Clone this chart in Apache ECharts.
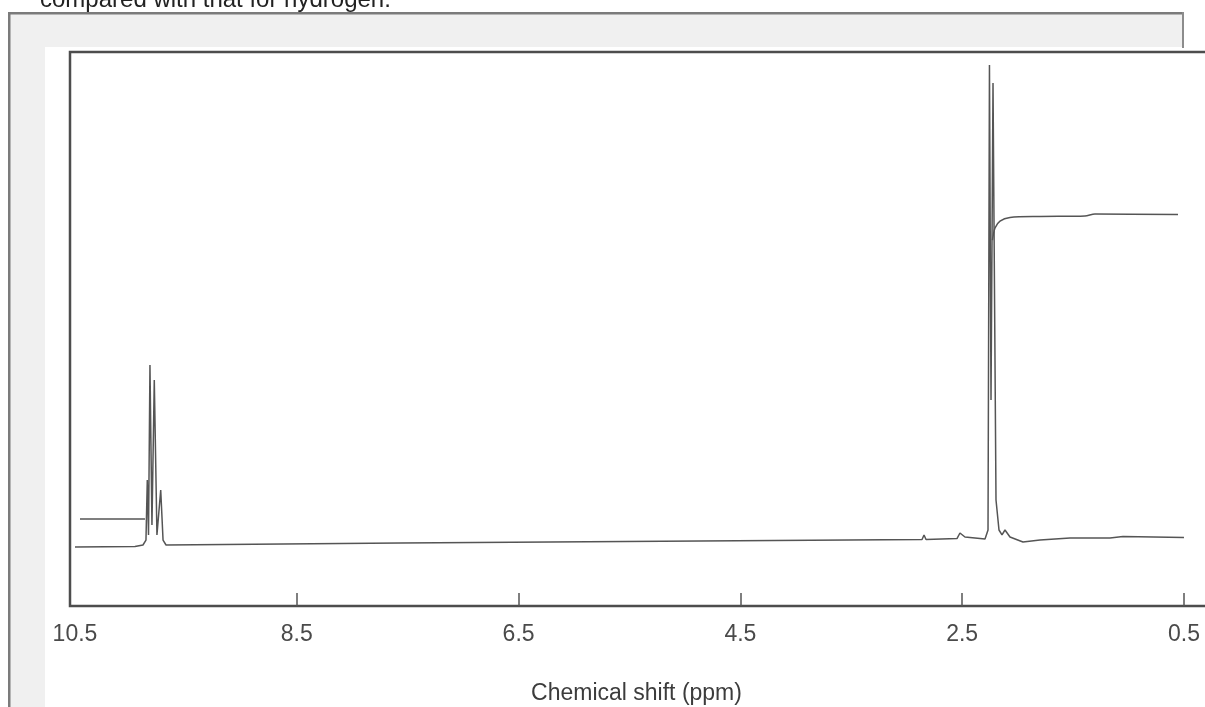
<!DOCTYPE html>
<html>
<head>
<meta charset="utf-8">
<script src="https://cdn.jsdelivr.net/npm/echarts@6/dist/echarts.min.js"></script>
<style>
body { margin: 0; background: #fff; overflow: hidden; }
#seen { position: absolute; left: 0; top: 0; width: 1205px; height: 707px; }
#note { position: absolute; left: 40px; top: -13px; font: 24px/24px 'Liberation Sans', Arial, sans-serif; color: #222; white-space: nowrap; }
</style>
</head>
<body>
<div id="seen"></div>
<div id="note">compared with that for hydrogen.</div>
<script>
// spectrum trace (ppm, relative intensity 0-100)
var shiftPpm = [10.5, 9.959, 9.887, 9.860, 9.848, 9.837, 9.824, 9.806, 9.785, 9.761, 9.727, 9.706, 9.679,
    7.569, 4.864, 2.862, 2.844, 2.826, 2.547, 2.520, 2.475, 2.294, 2.267, 2.254, 2.240, 2.222, 2.195,
    2.168, 2.141, 2.114, 2.069, 1.952, 1.798, 1.528, 1.167, 1.050, 0.5];
var signal = [10.65, 10.74, 11.01, 11.91, 22.74, 12.82, 43.50, 14.62, 40.79, 12.82, 20.94, 11.91, 11.01,
    11.37, 11.73, 12.00, 12.82, 12.00, 12.18, 13.18, 12.45, 12.09, 13.72, 97.65, 37.18, 94.40, 19.13,
    13.72, 12.82, 13.72, 12.45, 11.55, 11.91, 12.27, 12.27, 12.55, 12.36];

// integral trace, two visible pieces
var integralLeftPpm = [10.455, 9.869];
var integralLeft = [15.70, 15.70];
var integralRightPpm = [2.227, 2.204, 2.159, 2.069, 1.799, 1.393, 1.303, 0.554];
var integralRight = [66.06, 68.23, 69.49, 70.13, 70.31, 70.40, 70.76, 70.67];

var tickPpm = [8.5, 6.5, 4.5, 2.5, 0.5];
var labelPpm = [10.5, 8.5, 6.5, 4.5, 2.5, 0.5];

function pairs(xs, ys) {
    var out = [];
    for (var i = 0; i < xs.length; i++) {
        out.push([xs[i], ys[i]]);
    }
    return out;
}

var myChart = echarts.init(document.getElementById('seen'));
var lineColor = '#555';
var font = "'Liberation Sans', Arial, sans-serif";

var option = {
    backgroundColor: '#fff',
    animation: false,
    graphic: [
        { type: 'rect', shape: { x: 10, y: 14, width: 1173, height: 33 }, style: { fill: '#f0f0f0' } },
        { type: 'rect', shape: { x: 10, y: 47, width: 35, height: 660 }, style: { fill: '#f0f0f0' } },
        { type: 'rect', shape: { x: 8, y: 12, width: 1176, height: 2.5 }, style: { fill: '#7b7b7b' } },
        { type: 'rect', shape: { x: 8, y: 12, width: 2.5, height: 695 }, style: { fill: '#7b7b7b' } },
        { type: 'rect', shape: { x: 1182, y: 12, width: 2, height: 36 }, style: { fill: '#8c8c8c' } }
    ],
    grid: {
        show: true,
        left: 70,
        top: 52,
        width: 1160,
        height: 554,
        outerBoundsMode: 'none',
        containLabel: false,
        borderColor: '#4d4d4d',
        borderWidth: 2.5,
        backgroundColor: 'transparent'
    },
    xAxis: {
        type: 'value',
        inverse: true,
        min: 0.085,
        max: 10.545,
        name: 'Chemical shift (ppm)',
        nameLocation: 'middle',
        nameGap: 76,
        nameTextStyle: {
            fontFamily: font,
            fontSize: 23,
            color: '#3c3c3c',
            padding: [0, 27, 0, 0]
        },
        axisLine: { show: false },
        splitLine: { show: false },
        axisTick: {
            inside: true,
            length: 13,
            customValues: tickPpm,
            lineStyle: { color: '#555', width: 1.5 }
        },
        axisLabel: {
            customValues: labelPpm,
            margin: 17,
            fontFamily: font,
            fontSize: 23,
            color: '#4a4a4a',
            formatter: function (v) { return v.toFixed(1); }
        }
    },
    yAxis: {
        type: 'value',
        min: 0,
        max: 100,
        show: false
    },
    series: [{
        name: 'spectrum',
        type: 'line',
        showSymbol: false,
        data: pairs(shiftPpm, signal),
        lineStyle: { color: lineColor, width: 1.5 }
    }, {
        name: 'integral left',
        type: 'line',
        showSymbol: false,
        data: pairs(integralLeftPpm, integralLeft),
        lineStyle: { color: lineColor, width: 1.5 }
    }, {
        name: 'integral right',
        type: 'line',
        showSymbol: false,
        smooth: 0.3,
        data: pairs(integralRightPpm, integralRight),
        lineStyle: { color: lineColor, width: 1.5 }
    }]
};
myChart.setOption(option);
</script>
</body>
</html>
